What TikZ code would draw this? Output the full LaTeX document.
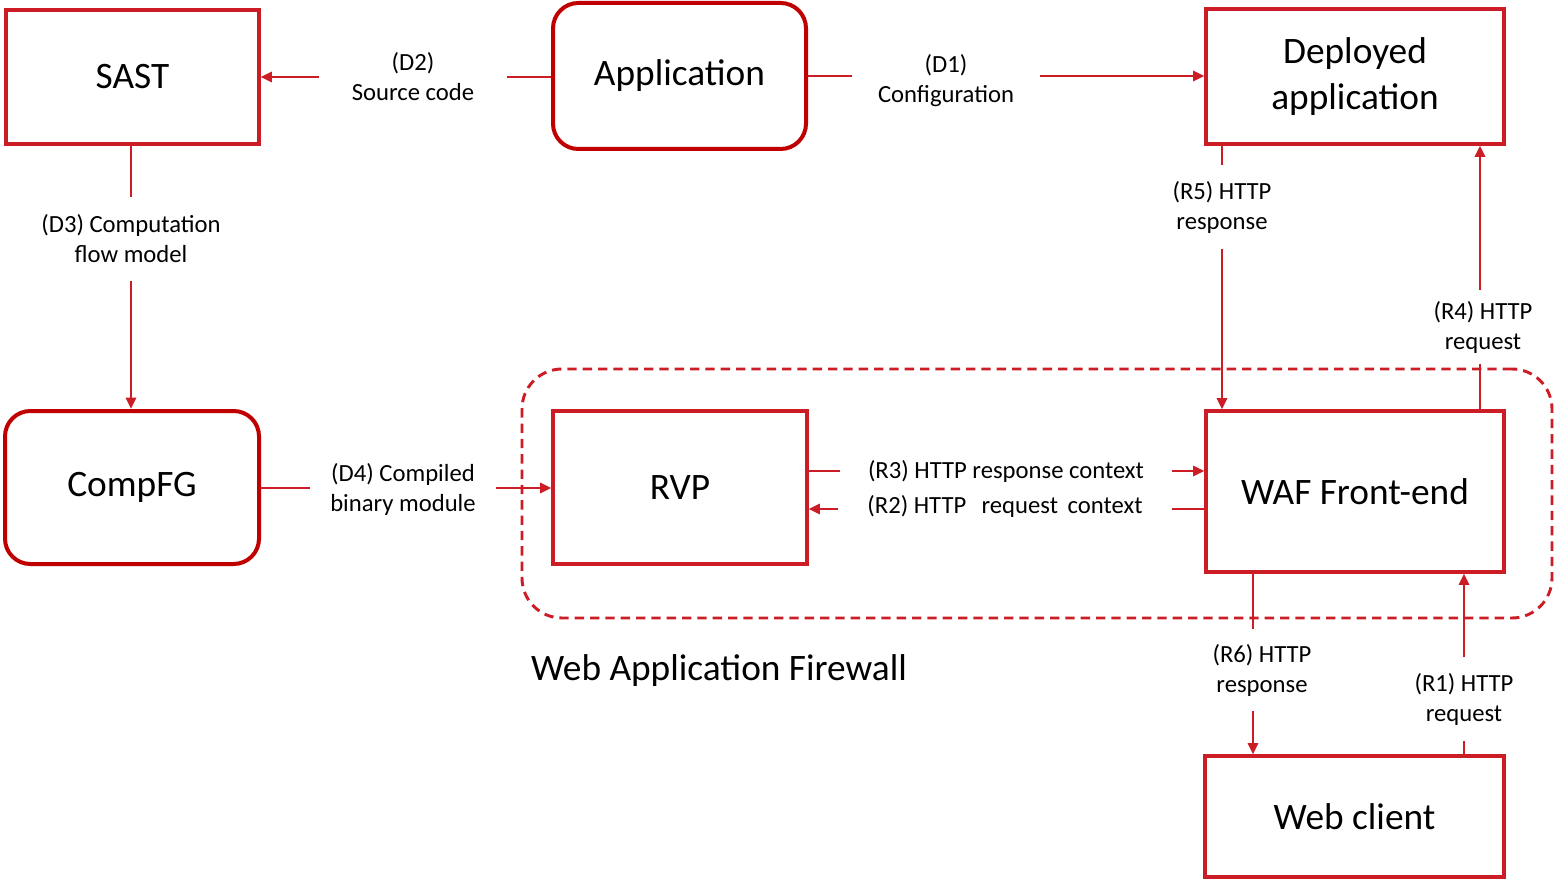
\documentclass[tikz,border=0pt]{standalone}
\usepackage{fontspec}
\setmainfont{Carlito}
\usetikzlibrary{arrows.meta}
\definecolor{boxred}{RGB}{204,28,38}
\definecolor{darkred}{RGB}{192,0,0}
\newcommand\myBig{\fontsize{28}{34.5}\selectfont}
\newcommand\mySmall{\fontsize{18.5}{22.5}\selectfont}
\tikzset{
  box/.style={draw=boxred, line width=2.3pt, inner sep=0pt, align=center, font=\myBig},
  rbox/.style={draw=darkred, line width=3pt, rounded corners=19pt, inner sep=0pt, align=center, font=\myBig},
  lab/.style={inner sep=0pt, align=center, font=\mySmall},
  conn/.style={draw=boxred, line width=2.2pt},
  arr/.style={conn, -{Triangle[length=8.5pt,width=7.5pt]}},
  zone/.style={draw=boxred, line width=2.2pt, dash pattern=on 7pt off 4.5pt, rounded corners=30pt, inner sep=0pt},
}
\begin{document}
\begin{tikzpicture}[x=0.75pt, y=-0.75pt]
\useasboundingbox (0,0) rectangle (1555,880);

% container
\node[zone, minimum width=772.5pt, minimum height=186.75pt] (zone) at (1037,493.5) {};
\node[font=\myBig, inner sep=0pt] (zonelab) at (719,671) {Web Application Firewall};

% boxes
\node[box, minimum width=189.75pt, minimum height=100.5pt] (sast) at (132.5,77) {SAST};
\node[rbox, minimum width=189.75pt, minimum height=109.5pt] (app) at (679.5,76) {Application};
\node[box, minimum width=223.5pt, minimum height=101.25pt] (dep) at (1355,76.5) {Deployed\\application};
\node[rbox, minimum width=190.5pt, minimum height=114.75pt] (comp) at (132,487.5) {CompFG};
\node[box, minimum width=190.5pt, minimum height=114.75pt] (rvp) at (680,487.5) {RVP};
\node[box, minimum width=223.5pt, minimum height=120.75pt] (waf) at (1355,491.5) {WAF Front-end};
\node[box, minimum width=224.25pt, minimum height=90.75pt] (web) at (1354.5,816.5) {Web client};

% labels
\node[lab, minimum width=141pt] (d2) at (413,77) {(D2)\\Source code};
\node[lab, minimum width=141pt] (d1) at (946,81) {(D1)\\Configuration};
\node[lab, minimum height=62.25pt] (d3) at (131,239) {(D3) Computation\\flow model};
\node[lab, minimum width=139.5pt] (d4) at (403,489) {(D4) Compiled\\binary module};
\node[lab, minimum width=249pt] (r3) at (1006,471) {(R3) HTTP response context};
\node[lab, minimum width=250.5pt] (r2) at (1005,506) {(R2) HTTP\ \ \,request\ \,context};
\node[lab, minimum height=62.25pt] (r5) at (1222,207) {(R5) HTTP\\response};
\node[lab, minimum height=54.75pt] (r4) at (1483,327) {(R4) HTTP\\request};
\node[lab, minimum height=61.5pt] (r6) at (1262,670) {(R6) HTTP\\response};
\node[lab, minimum height=62.25pt] (r1) at (1464,699) {(R1) HTTP\\request};

% connectors
\draw[conn] (app.west |- 0,77) -- (d2.east |- 0,77);
\draw[arr] (d2.west |- 0,77) -- (sast.east |- 0,77);

\draw[conn] (app.east |- 0,76) -- (d1.west |- 0,76);
\draw[arr] (d1.east |- 0,76) -- (dep.west |- 0,76);

\draw[conn] (sast.south -| 131,0) -- (d3.north -| 131,0);
\draw[arr] (d3.south -| 131,0) -- (comp.north -| 131,0);

\draw[conn] (comp.east |- 0,488) -- (d4.west |- 0,488);
\draw[arr] (d4.east |- 0,488) -- (rvp.west |- 0,488);

\draw[conn] (rvp.east |- 0,471) -- (r3.west |- 0,471);
\draw[arr] (r3.east |- 0,471) -- (waf.west |- 0,471);

\draw[conn] (waf.west |- 0,509) -- (r2.east |- 0,509);
\draw[arr] (r2.west |- 0,509) -- (rvp.east |- 0,509);

\draw[conn] (dep.south -| 1222,0) -- (r5.north -| 1222,0);
\draw[arr] (r5.south -| 1222,0) -- (waf.north -| 1222,0);

\draw[conn] (waf.north -| 1480,0) -- (r4.south -| 1480,0);
\draw[arr] (r4.north -| 1480,0) -- (dep.south -| 1480,0);

\draw[conn] (waf.south -| 1253,0) -- (r6.north -| 1253,0);
\draw[arr] (r6.south -| 1253,0) -- (web.north -| 1253,0);

\draw[conn] (web.north -| 1464,0) -- (r1.south -| 1464,0);
\draw[arr] (r1.north -| 1464,0) -- (waf.south -| 1464,0);
\end{tikzpicture}
\end{document}
